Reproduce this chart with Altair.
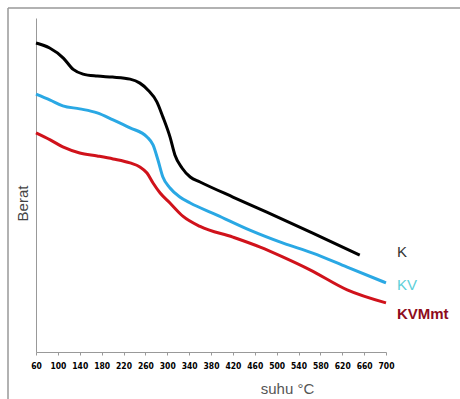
import altair as alt
import pandas as pd

# Temperature (°C) and relative weight readings for each sample
k_temp = [60, 85, 110, 128, 146, 172, 200, 232, 250, 265, 281, 292, 305, 314, 327, 342, 360, 420, 482, 566, 652]
k_weight = [92.5, 91.0, 88.0, 84.6, 83.2, 82.6, 82.3, 81.7, 80.5, 78.4, 74.9, 70.4, 64.4, 59.0, 55.1, 52.4, 50.9, 46.4, 41.9, 35.6, 29.0]

kv_temp = [60, 86, 109, 140, 172, 201, 232, 263, 274, 283, 292, 305, 323, 342, 391, 451, 512, 566, 629, 700]
kv_weight = [77.2, 75.4, 73.7, 72.8, 71.6, 69.5, 67.1, 64.4, 62.0, 57.5, 52.4, 49.1, 46.4, 44.6, 41.0, 36.5, 32.6, 29.6, 25.4, 20.7]

kvm_temp = [60, 86, 109, 140, 172, 201, 232, 250, 263, 274, 287, 305, 329, 360, 420, 470, 512, 561, 629, 700]
kvm_weight = [65.6, 63.5, 61.4, 59.6, 58.7, 57.8, 56.6, 55.4, 53.6, 50.6, 47.6, 44.6, 40.6, 37.6, 34.4, 31.4, 28.4, 24.6, 18.6, 14.7]

series_names = ["K", "KV", "KVMmt"]
series_colors = ["#000000", "#2aa8e4", "#d0121b"]
x_ticks = list(range(60, 701, 40))

label_x = 720
label_y = [29.9, 20.1, 11.4]

rows = []
for name, ts, ws in zip(series_names, [k_temp, kv_temp, kvm_temp], [k_weight, kv_weight, kvm_weight]):
    for t, w in zip(ts, ws):
        rows.append({"series": name, "suhu": t, "berat": w})
df = pd.DataFrame(rows)

x_scale = alt.Scale(domain=[60, 700], nice=False, zero=False)
y_scale = alt.Scale(domain=[0, 100], nice=False)

lines = alt.Chart(df).mark_line(strokeWidth=3, interpolate="monotone").encode(
    x=alt.X("suhu:Q", scale=x_scale,
            axis=alt.Axis(values=x_ticks, tickCount=17, title="suhu °C", grid=False,
                          labelOverlap=False, labelSeparation=0, labelFlush=False,
                          labelFont="DejaVu Sans Condensed, Liberation Sans Narrow, sans-serif",
                          labelFontWeight="bold", labelFontSize=8.5, labelColor="#000",
                          labelPadding=6, tickSize=3, tickColor="#999", domainColor="#999",
                          titleFont="Liberation Sans, Arial, sans-serif", titleFontSize=15,
                          titleFontWeight="normal", titleColor="#555",
                          titleX=251, titleY=36, titleBaseline="middle")),
    y=alt.Y("berat:Q", scale=y_scale,
            axis=alt.Axis(title="Berat", labels=False, ticks=False, grid=False,
                          domainColor="#999",
                          titleFont="Liberation Sans, Arial, sans-serif", titleFontSize=15,
                          titleFontWeight="normal", titleColor="#444",
                          titleX=-14, titleY=185, titleBaseline="middle")),
    color=alt.Color("series:N", scale=alt.Scale(domain=series_names, range=series_colors), legend=None),
    detail="series:N",
)

def label(i, color, weight):
    d = pd.DataFrame({"suhu": [label_x], "berat": [label_y[i]], "txt": [series_names[i]]})
    return alt.Chart(d).mark_text(align="left", baseline="middle", fontSize=15,
                                  font="Liberation Sans, Arial, sans-serif",
                                  fontWeight=weight, color=color).encode(
        x=alt.X("suhu:Q", scale=x_scale), y=alt.Y("berat:Q", scale=y_scale), text="txt:N")

frame_top = alt.Chart(pd.DataFrame({"a": [0]})).mark_rule(color="#999", strokeWidth=1.5).encode(
    x=alt.value(-28), x2=alt.value(430), y=alt.value(-10))
frame_left = alt.Chart(pd.DataFrame({"a": [0]})).mark_rule(color="#999", strokeWidth=1.5).encode(
    x=alt.value(-28), y=alt.value(-10), y2=alt.value(385))

chart = alt.layer(
    frame_top, frame_left, lines,
    label(0, "#333333", "normal"),
    label(1, "#5ccfd8", "normal"),
    label(2, "#8e0c1c", "bold"),
).properties(
    width=350, height=334,
    background="white",
    autosize=alt.AutoSizeParams(type="none"),
    padding={"left": 36, "top": 18, "right": 74, "bottom": 47},
).configure_view(stroke=None).configure_axisX(labelOverlap=False, labelFlush=False)

chart.save("out.html", embed_options={"renderer": "svg", "actions": False})
